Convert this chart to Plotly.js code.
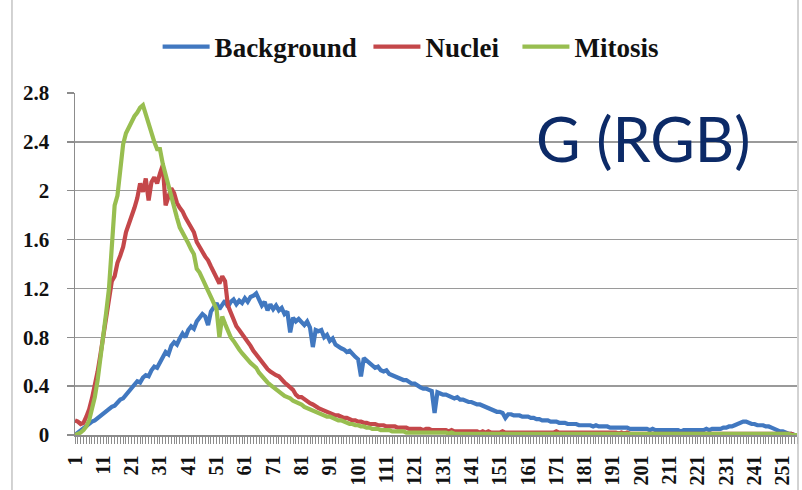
<!DOCTYPE html>
<html>
<head>
<meta charset="utf-8">
<script src="https://cdn.plot.ly/plotly-3.0.1.min.js"></script>
<style>
  html, body { margin: 0; padding: 0; background: #fff; }
  #chart { width: 802px; height: 490px; }
</style>
</head>
<body>
<div id="chart"></div>
<script>
// Green-channel intensity bins (1..256)
const levels = Array.from({ length: 256 }, (_, i) => i + 1);

// Labelled bins on the category axis
const xTickLabels = ['1', '11', '21', '31', '41', '51', '61', '71', '81', '91', '101', '111', '121',
  '131', '141', '151', '161', '171', '181', '191', '201', '211', '221', '231', '241', '251'];

const yTickValues = [0, 0.4, 0.8, 1.2, 1.6, 2, 2.4, 2.8];
const yTickLabels = ['0', '0.4', '0.8', '1.2', '1.6', '2', '2.4', '2.8'];

const background = [
  0.00, 0.02, 0.04, 0.06, 0.07, 0.09, 0.11, 0.12, 0.14, 0.16,
  0.18, 0.19, 0.21, 0.23, 0.24, 0.27, 0.29, 0.30, 0.33, 0.35,
  0.38, 0.41, 0.44, 0.43, 0.47, 0.49, 0.48, 0.53, 0.56, 0.55,
  0.60, 0.63, 0.68, 0.66, 0.73, 0.76, 0.74, 0.79, 0.83, 0.80,
  0.86, 0.89, 0.87, 0.93, 0.96, 0.99, 0.97, 0.90, 1.01, 1.04,
  1.08, 1.03, 1.07, 1.10, 1.05, 1.09, 1.11, 1.07, 1.10, 1.08,
  1.12, 1.09, 1.13, 1.14, 1.16, 1.11, 1.06, 1.09, 1.02, 1.07,
  1.03, 1.06, 1.02, 1.04, 0.99, 1.01, 0.84, 0.96, 0.93, 0.95,
  0.92, 0.90, 0.93, 0.88, 0.72, 0.86, 0.85, 0.86, 0.80, 0.82,
  0.77, 0.79, 0.74, 0.72, 0.71, 0.70, 0.68, 0.69, 0.66, 0.64,
  0.62, 0.48, 0.63, 0.61, 0.58, 0.57, 0.55, 0.56, 0.53, 0.52,
  0.53, 0.50, 0.49, 0.48, 0.47, 0.46, 0.45, 0.45, 0.43, 0.42,
  0.42, 0.40, 0.39, 0.38, 0.38, 0.37, 0.36, 0.18, 0.35, 0.34,
  0.33, 0.33, 0.32, 0.31, 0.30, 0.31, 0.29, 0.29, 0.28, 0.27,
  0.27, 0.26, 0.25, 0.25, 0.24, 0.23, 0.22, 0.21, 0.20, 0.19,
  0.19, 0.18, 0.14, 0.17, 0.17, 0.16, 0.16, 0.16, 0.15, 0.15,
  0.15, 0.14, 0.14, 0.13, 0.13, 0.12, 0.12, 0.12, 0.11, 0.11,
  0.11, 0.10, 0.10, 0.10, 0.09, 0.09, 0.09, 0.09, 0.08, 0.08,
  0.08, 0.08, 0.08, 0.07, 0.08, 0.07, 0.07, 0.07, 0.07, 0.06,
  0.06, 0.06, 0.06, 0.06, 0.06, 0.06, 0.05, 0.05, 0.05, 0.05,
  0.05, 0.05, 0.05, 0.04, 0.05, 0.04, 0.04, 0.04, 0.04, 0.04,
  0.04, 0.04, 0.04, 0.04, 0.03, 0.04, 0.04, 0.04, 0.04, 0.04,
  0.04, 0.04, 0.04, 0.05, 0.04, 0.05, 0.05, 0.05, 0.05, 0.06,
  0.06, 0.07, 0.07, 0.08, 0.09, 0.10, 0.11, 0.11, 0.10, 0.09,
  0.09, 0.08, 0.08, 0.08, 0.07, 0.07, 0.06, 0.05, 0.04, 0.03,
  0.03, 0.02, 0.01, 0.01, 0.00, 0.00
];

const nuclei = [
  0.12, 0.11, 0.09, 0.10, 0.15, 0.21, 0.30, 0.40, 0.52, 0.66,
  0.80, 0.95, 1.10, 1.26, 1.30, 1.41, 1.47, 1.54, 1.66, 1.72,
  1.79, 1.86, 1.94, 2.06, 1.99, 2.10, 1.92, 2.07, 2.11, 2.06,
  2.14, 2.21, 1.88, 1.95, 2.02, 1.98, 1.90, 1.86, 1.83, 1.78,
  1.74, 1.70, 1.66, 1.58, 1.53, 1.50, 1.46, 1.43, 1.38, 1.33,
  1.28, 1.24, 1.30, 1.26, 1.06, 1.00, 0.95, 0.89, 0.86, 0.83,
  0.80, 0.76, 0.73, 0.69, 0.66, 0.63, 0.60, 0.56, 0.54, 0.52,
  0.50, 0.49, 0.48, 0.45, 0.43, 0.41, 0.39, 0.37, 0.33, 0.31,
  0.31, 0.29, 0.28, 0.26, 0.25, 0.23, 0.22, 0.21, 0.20, 0.19,
  0.18, 0.17, 0.16, 0.16, 0.15, 0.14, 0.14, 0.13, 0.12, 0.12,
  0.11, 0.11, 0.10, 0.10, 0.09, 0.09, 0.09, 0.08, 0.08, 0.08,
  0.07, 0.07, 0.07, 0.07, 0.06, 0.06, 0.06, 0.06, 0.05, 0.05,
  0.05, 0.05, 0.05, 0.04, 0.05, 0.05, 0.04, 0.04, 0.04, 0.04,
  0.04, 0.04, 0.03, 0.04, 0.03, 0.03, 0.03, 0.03, 0.03, 0.03,
  0.03, 0.03, 0.03, 0.02, 0.03, 0.02, 0.03, 0.02, 0.02, 0.02,
  0.02, 0.03, 0.02, 0.02, 0.02, 0.02, 0.02, 0.02, 0.02, 0.02,
  0.02, 0.02, 0.02, 0.02, 0.02, 0.02, 0.02, 0.02, 0.02, 0.02,
  0.03, 0.02, 0.02, 0.02, 0.02, 0.02, 0.02, 0.02, 0.02, 0.02,
  0.02, 0.02, 0.02, 0.02, 0.02, 0.02, 0.02, 0.02, 0.02, 0.02,
  0.02, 0.02, 0.01, 0.02, 0.01, 0.02, 0.01, 0.01, 0.01, 0.01,
  0.01, 0.01, 0.01, 0.01, 0.01, 0.01, 0.01, 0.01, 0.01, 0.01,
  0.01, 0.01, 0.01, 0.01, 0.01, 0.01, 0.01, 0.01, 0.01, 0.01,
  0.01, 0.01, 0.01, 0.01, 0.01, 0.01, 0.01, 0.01, 0.01, 0.01,
  0.01, 0.01, 0.01, 0.01, 0.01, 0.01, 0.01, 0.01, 0.01, 0.01,
  0.01, 0.01, 0.01, 0.01, 0.01, 0.01, 0.01, 0.01, 0.01, 0.01,
  0.01, 0.01, 0.01, 0.01, 0.00, 0.00
];

const mitosis = [
  0.00, 0.01, 0.02, 0.04, 0.07, 0.12, 0.20, 0.31, 0.45, 0.62,
  0.78, 1.00, 1.20, 1.55, 1.88, 1.96, 2.18, 2.38, 2.47, 2.52,
  2.57, 2.61, 2.64, 2.68, 2.70, 2.62, 2.56, 2.48, 2.40, 2.34,
  2.34, 2.22, 2.13, 2.02, 1.94, 1.86, 1.78, 1.70, 1.66, 1.62,
  1.57, 1.52, 1.48, 1.36, 1.33, 1.28, 1.22, 1.18, 1.13, 1.08,
  1.03, 0.80, 0.97, 0.91, 0.85, 0.80, 0.77, 0.73, 0.70, 0.67,
  0.64, 0.62, 0.59, 0.57, 0.55, 0.51, 0.48, 0.45, 0.43, 0.41,
  0.39, 0.37, 0.35, 0.34, 0.32, 0.31, 0.30, 0.28, 0.27, 0.26,
  0.25, 0.23, 0.22, 0.21, 0.20, 0.19, 0.18, 0.17, 0.16, 0.15,
  0.15, 0.14, 0.13, 0.12, 0.12, 0.11, 0.10, 0.09, 0.09, 0.08,
  0.08, 0.07, 0.07, 0.06, 0.06, 0.05, 0.05, 0.05, 0.04, 0.04,
  0.04, 0.04, 0.03, 0.03, 0.03, 0.03, 0.03, 0.02, 0.02, 0.02,
  0.02, 0.02, 0.02, 0.02, 0.02, 0.02, 0.02, 0.02, 0.02, 0.02,
  0.02, 0.02, 0.01, 0.02, 0.01, 0.01, 0.01, 0.01, 0.01, 0.01,
  0.01, 0.01, 0.01, 0.01, 0.01, 0.01, 0.01, 0.01, 0.01, 0.01,
  0.01, 0.01, 0.01, 0.01, 0.01, 0.01, 0.01, 0.01, 0.01, 0.01,
  0.01, 0.01, 0.01, 0.01, 0.01, 0.01, 0.01, 0.01, 0.01, 0.01,
  0.01, 0.01, 0.01, 0.01, 0.01, 0.01, 0.01, 0.01, 0.01, 0.01,
  0.01, 0.01, 0.01, 0.01, 0.01, 0.01, 0.01, 0.01, 0.01, 0.01,
  0.01, 0.01, 0.01, 0.01, 0.01, 0.01, 0.01, 0.01, 0.01, 0.01,
  0.01, 0.01, 0.01, 0.01, 0.01, 0.01, 0.01, 0.01, 0.01, 0.01,
  0.01, 0.01, 0.01, 0.01, 0.01, 0.01, 0.01, 0.01, 0.01, 0.01,
  0.01, 0.01, 0.01, 0.01, 0.01, 0.01, 0.01, 0.01, 0.01, 0.01,
  0.01, 0.01, 0.01, 0.01, 0.01, 0.01, 0.01, 0.01, 0.01, 0.01,
  0.01, 0.01, 0.01, 0.01, 0.01, 0.01, 0.01, 0.01, 0.01, 0.01,
  0.01, 0.01, 0.01, 0.00, 0.00, 0.00
];

const seriesNames = ['Background', 'Nuclei', 'Mitosis'];
const seriesColors = ['#4178C0', '#C4474A', '#98BE50'];
const seriesValues = [background, nuclei, mitosis];

// A trailing no-break space widens the gap after the first two legend entries
const legendPad = ['\u00a0', '\u00a0\u00a0', ''];

const traces = seriesValues.map((vals, i) => ({
  type: 'scatter',
  mode: 'lines',
  name: seriesNames[i] + legendPad[i],
  x: levels,
  y: vals,
  line: { color: seriesColors[i], width: 4.2 },
  hoverinfo: 'x+y+name'
}));

// Every bin gets a tick mark; only every tenth one is labelled
const xTickText = levels.map(v => xTickLabels.includes(String(v)) ? String(v) : '');

const boldSerif = (size) => ({ family: 'Liberation Serif, Times New Roman, serif', size: size, weight: 'bold', color: '#111' });
const axisGray = '#8c8c8c';

const layout = {
  width: 802,
  height: 490,
  margin: { l: 75, r: 5, t: 93, b: 55 },
  paper_bgcolor: '#fff',
  plot_bgcolor: '#fff',
  showlegend: true,
  legend: {
    orientation: 'h',
    xref: 'container', x: 0.512, xanchor: 'center',
    yref: 'container', y: 1 - 47 / 490, yanchor: 'middle',
    font: boldSerif(27),
    itemwidth: 47,
    bgcolor: 'rgba(0,0,0,0)'
  },
  xaxis: {
    range: [1, 256],
    tickmode: 'array',
    tickvals: levels,
    ticktext: xTickText,
    tickangle: -90,
    ticks: 'outside',
    ticklen: 7,
    tickwidth: 1,
    tickcolor: axisGray,
    ticklabelstandoff: 4,
    tickfont: boldSerif(20),
    showline: true,
    linecolor: axisGray,
    linewidth: 1.5,
    showgrid: false,
    zeroline: false,
    layer: 'below traces'
  },
  yaxis: {
    range: [0, 2.8],
    tickmode: 'array',
    tickvals: yTickValues,
    ticktext: yTickLabels,
    ticks: 'outside',
    ticklen: 7,
    tickwidth: 1.5,
    tickcolor: axisGray,
    ticklabelstandoff: 13,
    tickfont: boldSerif(21),
    showline: true,
    linecolor: axisGray,
    linewidth: 1.5,
    showgrid: true,
    gridcolor: '#9a9a9a',
    gridwidth: 1.5,
    zeroline: false
  },
  annotations: [{
    text: 'G (RGB)',
    xref: 'paper', x: 0.788, xanchor: 'center',
    yref: 'paper', y: 0.866, yanchor: 'middle',
    showarrow: false,
    font: { family: 'Lato, Open Sans, sans-serif', size: 61, color: '#0c2a67' }
  }],
  shapes: [
    { type: 'line', xref: 'paper', yref: 'paper', x0: -0.0873, x1: -0.0873, y0: -0.2, y1: 1.3,
      line: { color: '#c4c4c4', width: 1.5 } },
    { type: 'line', xref: 'paper', yref: 'paper', x0: 1.0014, x1: 1.0014, y0: -0.2, y1: 1.3,
      line: { color: '#c4c4c4', width: 1.5 } }
  ]
};

Plotly.newPlot('chart', traces, layout, { displayModeBar: false, staticPlot: true });
</script>
</body>
</html>
